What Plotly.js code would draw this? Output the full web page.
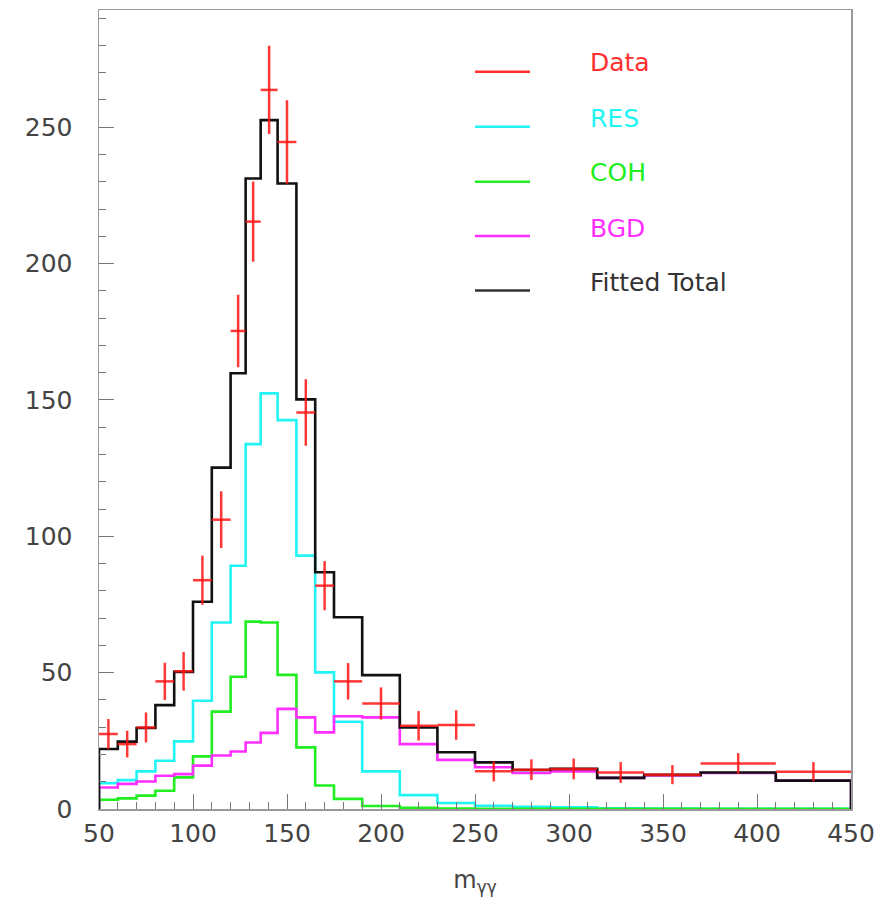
<!DOCTYPE html>
<html>
<head>
<meta charset="utf-8">
<script src="https://cdn.plot.ly/plotly-3.0.1.min.js"></script>
<style>
html,body{margin:0;padding:0;background:#fff;}
#chart{width:885px;height:901px;}
</style>
</head>
<body>
<div id="chart"></div>
<script>
// Bin edges (m_gg)
const edges = [50,60,70,80,90,100,110,120,128,136,145,155,165,175,190,210,230,250,270,290,315,340,370,410,450];
// Data points (one per bin)
const dataY   = [27.5,23.8,29.9,46.8,50.5,83.9,106.1,175.3,215.4,263.7,244.6,145.4,81.9,46.8,38.7,30.5,30.8,13.8,14.4,14.7,13.4,12.6,16.7,13.7];
const dataErr = [5.5,4.9,5.5,6.8,7.1,9.0,10.4,13.3,14.7,16.2,15.3,12.2,9.0,6.7,5.9,5.4,5.4,3.7,3.8,3.8,3.8,3.5,3.8,3.5];
// Fit components
const res   = [9.5,10.6,13.8,17.7,24.8,39.7,68.4,89.2,133.8,152.4,142.6,92.9,50.1,32.0,13.8,5.1,2.2,1.2,0.8,0.6,0.3,0.2,0.1,0.1];
const coh   = [3.4,3.9,4.9,6.7,11.6,19.3,35.7,48.5,68.7,68.4,49.2,22.6,8.6,3.7,1.1,0.4,0.2,0.1,0.1,0.05,0.05,0.05,0.05,0.05];
const bgd   = [7.9,9.2,10.1,12.2,12.8,15.9,19.6,21.1,24.4,27.9,36.7,33.6,28.1,34.0,33.6,23.8,18.0,15.3,13.2,13.8,11.4,12.3,13.2,10.4];
const total = [22.0,24.7,29.7,38.1,50.3,76.0,125.2,159.8,231.2,252.6,229.4,150.2,86.8,70.3,49.1,29.9,20.8,17.1,14.3,14.7,11.4,12.5,13.4,10.4];
// Legend labels
const legendNames  = ["Data","RES","COH","BGD","Fitted Total"];
const legendColors = ["#ff3030","#22f4f4","#20ee20","#ff30ff","#333333"];

const centers = edges.slice(0,-1).map((e,i)=> (e+edges[i+1])/2);
const halfW   = edges.slice(0,-1).map((e,i)=> (edges[i+1]-e)/2);

function stepTrace(vals, color, width){
  return {
    x: [edges[0]].concat(edges),
    y: [0].concat(vals).concat([0]),
    type: 'scatter', mode: 'lines',
    line: {shape: 'hv', color: color, width: width},
    hoverinfo: 'skip', showlegend: false
  };
}

const traces = [
  stepTrace(res, '#22f4f4', 2.6),
  stepTrace(coh, '#20ee20', 2.6),
  stepTrace(bgd, '#ff30ff', 2.6),
  stepTrace(total, '#111111', 2.6),
  {
    x: centers, y: dataY, type: 'scatter', mode: 'markers',
    marker: {size: 1, color: 'rgba(255,20,20,0.85)'},
    error_y: {type: 'data', array: dataErr, visible: true, width: 0, thickness: 2.5, color: 'rgba(255,20,20,0.85)'},
    error_x: {type: 'data', array: halfW, visible: true, width: 0, thickness: 2.5, color: 'rgba(255,20,20,0.85)'},
    showlegend: false
  }
];

// Legend drawn in paper coordinates
const L = 99, R = 851, T = 10, B = 809;
const px = v => (v - L)/(R - L);
const py = v => (B - v)/(B - T);
const lineY = [71.7,126.7,181.7,236,290.5];
const textY = [63,118,172.7,228,282.7];
const shapes = legendNames.map((n,i)=>({
  type:'line', xref:'paper', yref:'paper',
  x0:px(475), x1:px(530), y0:py(lineY[i]), y1:py(lineY[i]),
  line:{color:legendColors[i], width:2.5}
}));
const annotations = legendNames.map((n,i)=>({
  xref:'paper', yref:'paper', x:px(588), y:py(textY[i]),
  xanchor:'left', yanchor:'middle', showarrow:false, text:n,
  font:{family:'DejaVu Sans', size:25, color:legendColors[i]}
}));

const axisFont = {family:'DejaVu Sans', size:25, color:'#444'};
const layout = {
  width: 885, height: 901,
  margin: {l: L, r: 885 - R, t: T, b: 901 - B},
  paper_bgcolor: '#fff', plot_bgcolor: '#fff',
  showlegend: false,
  xaxis: {
    range: [50, 450], dtick: 50, tick0: 50,
    ticks: 'inside', ticklen: 15, tickwidth: 1, tickcolor: '#777',
    minor: {dtick: 10, tick0: 50, ticks: 'inside', ticklen: 7, tickcolor: '#777'},
    showline: true, mirror: true, linecolor: '#999', linewidth: 1.5,
    showgrid: false, zeroline: false,
    tickfont: axisFont, ticklabelstandoff: 1,
    title: {text: 'm<sub>γγ</sub>', font: {family:'DejaVu Sans', size: 24, color:'#444'}, standoff: 24}
  },
  yaxis: {
    range: [0, 293], dtick: 50, tick0: 0,
    ticks: 'inside', ticklen: 15, tickwidth: 1, tickcolor: '#777',
    minor: {dtick: 10, ticks: 'inside', ticklen: 7, tickcolor: '#777'},
    showline: true, mirror: true, linecolor: '#999', linewidth: 1.5,
    showgrid: false, zeroline: false,
    tickfont: axisFont, ticklabelstandoff: 20
  },
  shapes: shapes,
  annotations: annotations
};

Plotly.newPlot('chart', traces, layout, {displayModeBar: false, staticPlot: true});
</script>
</body>
</html>
